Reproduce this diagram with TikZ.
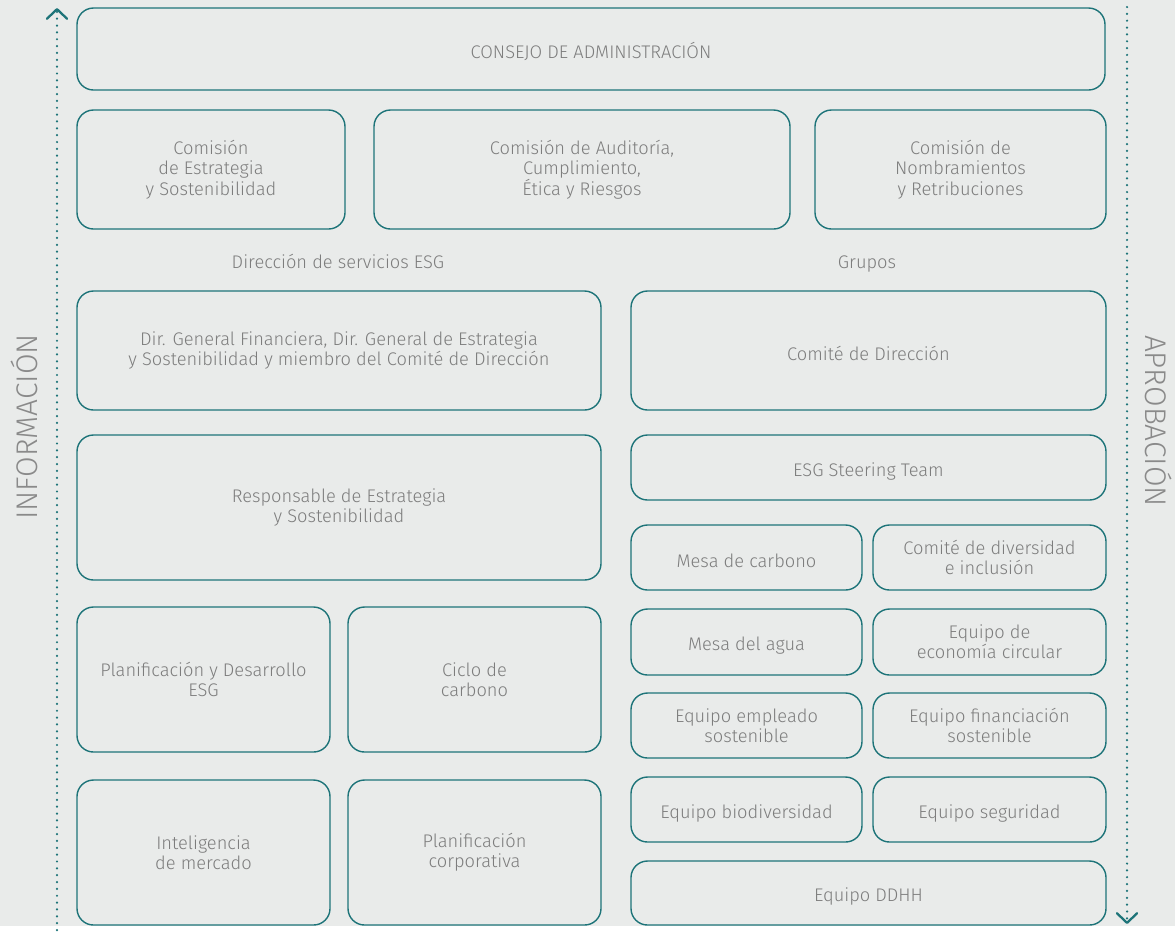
\documentclass[tikz,border=0pt]{standalone}
\usepackage{fontspec}
\setmainfont{Fira Sans Light}
\usetikzlibrary{arrows.meta}
\definecolor{fondo}{HTML}{E9EBEA}
\definecolor{verde}{HTML}{1E7479}
\definecolor{texto}{HTML}{7D7D7D}
\begin{document}
\begin{tikzpicture}[x=0.02cm, y=-0.02cm,
	every node/.style={text=texto, font=\fontsize{10.4}{11.6}\selectfont, align=center},
	box/.style={draw=verde, line width=0.8pt, rounded corners=0.33cm, inner sep=0pt,
		execute at begin node={\rule{0pt}{12pt}}},
	sz/.style 2 args={minimum width=#1*0.02cm, minimum height=#2*0.02cm},
	side/.style={font=\fontsize{17}{19}\selectfont, text=texto!90, anchor=base, inner sep=0pt},
	flecha/.style={draw=verde, line width=1.4pt, line cap=round, dash pattern=on 0pt off 3.9pt,
		-{Straight Barb[length=5.5pt, width=11.5pt, line width=1.3pt, round]}}]
	\fill[fondo] (0,0) rectangle (1175,926);

	\node[box, sz={1028}{82}] (consejo) at (591, 49) {CONSEJO DE ADMINISTRACIÓN};

	\node[box, sz={268}{119}] (estrategia) at (211, 169.5) {Comisión\\de Estrategia\\y Sostenibilidad};
	\node[box, sz={416}{119}] (auditoria) at (582, 169.5) {Comisión de Auditoría,\\Cumplimiento,\\Ética y Riesgos};
	\node[box, sz={291}{119}] (nombramientos) at (960.5, 169.5) {Comisión de\\Nombramientos\\y Retribuciones};

	\node[anchor=base] (servicios) at (338, 268) {Dirección de servicios ESG};
	\node[anchor=base] (grupos) at (867, 268) {Grupos};

	\node[box, sz={524}{119}] (dirgeneral) at (339, 350.5) {Dir. General Financiera, Dir. General de Estrategia\\y Sostenibilidad y miembro del Comité de Dirección};
	\node[box, sz={524}{145}] (responsable) at (339, 507.5) {Responsable de Estrategia\\y Sostenibilidad};
	\node[box, sz={253}{145}] (planifesg) at (203.5, 679.5) {Planificación y Desarrollo\\ESG};
	\node[box, sz={253}{145}] (ciclo) at (474.5, 679.5) {Ciclo de\\carbono};
	\node[box, sz={253}{145}] (inteligencia) at (203.5, 852.5) {Inteligencia\\de mercado};
	\node[box, sz={253}{145}] (plancorp) at (474.5, 852.5) {Planificación\\corporativa};

	\node[box, sz={475}{119}] (comdir) at (868.5, 350.5) {Comité de Dirección};
	\node[box, sz={475}{65}] (steering) at (868.5, 467.5) {ESG Steering Team};
	\node[box, sz={231}{65}] (carbono) at (746.5, 557.5) {Mesa de carbono};
	\node[box, sz={233}{65}] (diversidad) at (989.5, 557.5) {Comité de diversidad\\e inclusión};
	\node[box, sz={231}{66}] (agua) at (746.5, 642) {Mesa del agua};
	\node[box, sz={233}{66}] (circular) at (989.5, 642) {Equipo de\\economía circular};
	\node[box, sz={231}{65}] (empleado) at (746.5, 725.5) {Equipo empleado\\sostenible};
	\node[box, sz={233}{65}] (financiacion) at (989.5, 725.5) {Equipo financiación\\sostenible};
	\node[box, sz={231}{65}] (biodiversidad) at (746.5, 809.5) {Equipo biodiversidad};
	\node[box, sz={233}{65}] (seguridad) at (989.5, 809.5) {Equipo seguridad};
	\node[box, sz={475}{64}] (ddhh) at (868.5, 893) {Equipo DDHH};

	\coordinate (infoa) at (57, 930);
	\coordinate (infob) at (57, 8);
	\coordinate (aproba) at (1127, 7);
	\coordinate (aprobb) at (1127, 924);
	\draw[flecha] (infoa) -- (infob);
	\draw[flecha] (aproba) -- (aprobb);

	\node[side, rotate=90] (informacion) at (37, 427) {INFORMACIÓN};
	\node[side, rotate=-90] (aprobacion) at (1145, 421) {APROBACIÓN};
\end{tikzpicture}
\end{document}
